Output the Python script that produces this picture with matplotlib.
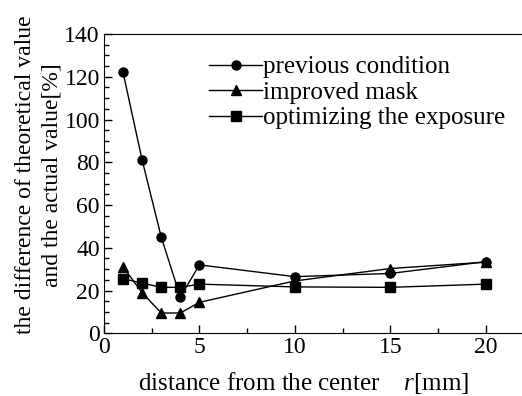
import numpy as np
import matplotlib.pyplot as plt
from matplotlib.ticker import MultipleLocator

plt.rcParams['font.family'] = ['Liberation Serif', 'DejaVu Serif']
plt.rcParams['mathtext.fontset'] = 'custom'
plt.rcParams['mathtext.it'] = 'Liberation Serif:italic'
plt.rcParams['mathtext.rm'] = 'Liberation Serif'

# данные
r = [1, 2, 3, 4, 5, 10, 15, 20]
previous = [122, 81, 45, 17, 32, 26.5, 28, 33.5]
improved = [31, 19, 9.5, 9.5, 14.5, 24.5, 30.3, 33.3]
optimizing = [25.5, 23.5, 21.5, 21.5, 23, 21.7, 21.5, 23]
labels = ['previous condition', 'improved mask', 'optimizing the exposure']

fig = plt.figure(figsize=(5.22, 3.96), dpi=100)
ax = fig.add_axes([0.1992, 0.1583, 0.8008, 0.7559])

ax.plot(r, previous, 'k-o', lw=1, ms=6.5, label=labels[0])
ax.plot(r, improved, 'k-^', lw=1, ms=7.5, label=labels[1])
ax.plot(r, optimizing, 'k-s', lw=1, ms=6.5, label=labels[2])

ax.set_xlim(0, 21.9)
ax.set_ylim(0, 140)
ax.xaxis.set_major_locator(MultipleLocator(5))
ax.xaxis.set_minor_locator(MultipleLocator(2.5))
ax.yaxis.set_major_locator(MultipleLocator(20))
ax.yaxis.set_minor_locator(MultipleLocator(5))
ax.tick_params(which='both', direction='in', labelsize=17, top=False, right=False)
ax.tick_params(which='major', length=6, width=1, pad=3)
ax.tick_params(which='minor', length=3.5, width=1)
ax.spines['right'].set_visible(False)

ax.set_xlabel('distance from the center    $r$[mm]', fontsize=18)
ax.xaxis.set_label_coords(0.478, -0.122)
ax.set_ylabel('the difference of theoretical value\nand the actual value[%]',
              fontsize=17, linespacing=1.3)
ax.yaxis.set_label_coords(-0.1, 0.53)

ax.legend(loc='upper left', bbox_to_anchor=(0.21, 0.985), frameon=False, fontsize=18,
          handlelength=2.1, handletextpad=0.05, labelspacing=0.12, borderpad=0.2)

plt.savefig('out.png', dpi=100)
